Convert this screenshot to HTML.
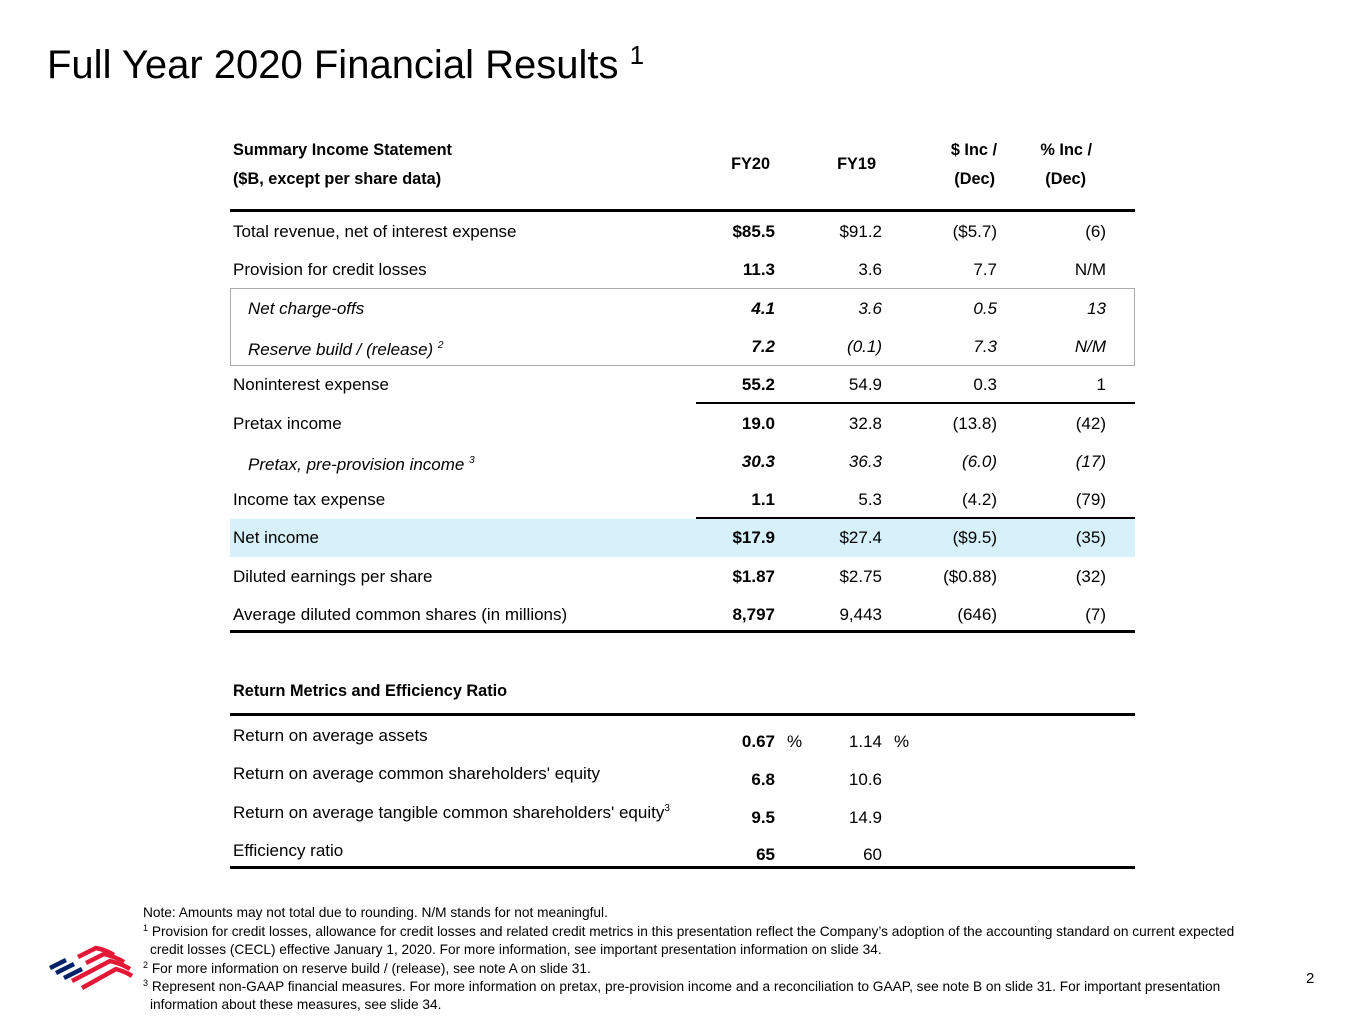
<!DOCTYPE html>
<html><head><meta charset="utf-8"><style>
body{margin:0;width:1365px;height:1024px;background:#fff;position:relative;overflow:hidden;font-family:"Liberation Sans",Arial,sans-serif;color:#000}
.a{position:absolute;white-space:nowrap}
.t{font-size:17px;line-height:20px}
.h{font-size:16.3px}
.r{text-align:right}
.b{font-weight:bold}
.i{font-style:italic}
.ln{position:absolute;background:#000}
.fn{position:absolute;left:143px;font-size:13.7px;white-space:nowrap;line-height:16px}
sup{font-size:10px;position:relative;top:-7px;vertical-align:baseline;line-height:0}
.fn sup{font-size:9px;top:-5px}
</style></head><body>
<div class="a" style="left:47px;top:40px;font-size:40px;line-height:50px">Full Year 2020 Financial Results <sup style="font-size:26px;top:-14px">1</sup></div>

<div class="a t b h" style="left:233px;top:140px">Summary Income Statement</div>
<div class="a t b h" style="left:233px;top:169px">($B, except per share data)</div>
<div class="a t b r h" style="left:700px;width:70px;top:154px">FY20</div>
<div class="a t b r h" style="left:806px;width:70px;top:154px">FY19</div>
<div class="a t b r h" style="left:900px;width:97px;top:140px">$ Inc /</div>
<div class="a t b r h" style="left:900px;width:95px;top:169px">(Dec)</div>
<div class="a t b r h" style="left:1000px;width:92px;top:140px">% Inc /</div>
<div class="a t b r h" style="left:1000px;width:86px;top:169px">(Dec)</div>

<div class="ln" style="left:230px;top:209px;width:905px;height:3px"></div>
<div style="position:absolute;left:230px;top:288px;width:903px;height:76px;border:1px solid #aaa"></div>
<div style="position:absolute;left:230px;top:519px;width:905px;height:38px;background:#d6f1fa"></div>
<div class="ln" style="left:696px;top:402px;width:439px;height:1.5px"></div>
<div class="ln" style="left:696px;top:517px;width:439px;height:1.5px"></div>
<div class="ln" style="left:230px;top:630px;width:905px;height:2.5px"></div>

<div id="rows"></div>
<script>
var rows=[
["Total revenue, net of interest expense","$85.5","$91.2","($5.7)","(6)",""],
["Provision for credit losses","11.3","3.6","7.7","N/M",""],
["Net charge-offs","4.1","3.6","0.5","13","i"],
["Reserve build / (release) <sup>2</sup>","7.2","(0.1)","7.3","N/M","i"],
["Noninterest expense","55.2","54.9","0.3","1",""],
["Pretax income","19.0","32.8","(13.8)","(42)",""],
["Pretax, pre-provision income <sup>3</sup>","30.3","36.3","(6.0)","(17)","i"],
["Income tax expense","1.1","5.3","(4.2)","(79)",""],
["Net income","$17.9","$27.4","($9.5)","(35)",""],
["Diluted earnings per share","$1.87","$2.75","($0.88)","(32)",""],
["Average diluted common shares (in millions)","8,797","9,443","(646)","(7)",""]];
var h="";
rows.forEach(function(r,k){var y=222+k*38.3;var it=r[5]?" i":"";var lx=r[5]?248:233;
var ly=(k==3||k==6)?y+3:y;
h+='<div class="a t'+it+'" style="left:'+lx+'px;top:'+ly+'px">'+r[0]+'</div>';
h+='<div class="a t b r'+it+'" style="left:675px;width:100px;top:'+y+'px">'+r[1]+'</div>';
h+='<div class="a t r'+it+'" style="left:782px;width:100px;top:'+y+'px">'+r[2]+'</div>';
h+='<div class="a t r'+it+'" style="left:897px;width:100px;top:'+y+'px">'+r[3]+'</div>';
h+='<div class="a t r'+it+'" style="left:1006px;width:100px;top:'+y+'px">'+r[4]+'</div>';});
document.getElementById("rows").innerHTML=h;
</script>

<div class="a t b h" style="left:233px;top:681px">Return Metrics and Efficiency Ratio</div>
<div class="ln" style="left:230px;top:713px;width:905px;height:2.5px"></div>
<div class="a t" style="left:233px;top:726px">Return on average assets</div>
<div class="a t" style="left:233px;top:764px">Return on average common shareholders' equity</div>
<div class="a t" style="left:233px;top:803px">Return on average tangible common shareholders' equity<sup>3</sup></div>
<div class="a t" style="left:233px;top:841px">Efficiency ratio</div>
<div class="a t b r" style="left:675px;width:100px;top:732px">0.67</div>
<div class="a t" style="left:787px;top:732px">%</div>
<div class="a t r" style="left:782px;width:100px;top:732px">1.14</div>
<div class="a t" style="left:894px;top:732px">%</div>
<div class="a t b r" style="left:675px;width:100px;top:770px">6.8</div>
<div class="a t r" style="left:782px;width:100px;top:770px">10.6</div>
<div class="a t b r" style="left:675px;width:100px;top:808px">9.5</div>
<div class="a t r" style="left:782px;width:100px;top:808px">14.9</div>
<div class="a t b r" style="left:675px;width:100px;top:845px">65</div>
<div class="a t r" style="left:782px;width:100px;top:845px">60</div>
<div class="ln" style="left:230px;top:866px;width:905px;height:2.5px"></div>

<div class="fn" style="top:905px">Note: Amounts may not total due to rounding. N/M stands for not meaningful.</div>
<div class="fn" style="top:924px"><sup>1</sup> Provision for credit losses, allowance for credit losses and related credit metrics in this presentation reflect the Company’s adoption of the accounting standard on current expected</div>
<div class="fn" style="top:942px;left:150px">credit losses (CECL) effective January 1, 2020. For more information, see important presentation information on slide 34.</div>
<div class="fn" style="top:961px"><sup>2</sup> For more information on reserve build / (release), see note A on slide 31.</div>
<div class="fn" style="top:979px"><sup>3</sup> Represent non-GAAP financial measures. For more information on pretax, pre-provision income and a reconciliation to GAAP, see note B on slide 31. For important presentation</div>
<div class="fn" style="top:997px;left:150px">information about these measures, see slide 34.</div>
<div class="a" style="left:1306px;top:970px;font-size:15px">2</div>

<svg style="position:absolute;left:44px;top:942px" width="92" height="52" viewBox="0 0 92 52">
<g stroke-linecap="butt" fill="none" stroke-width="4.5">
<path d="M6 26 L22 18" stroke="#012169"/>
<path d="M12 31 L30 22" stroke="#012169"/>
<path d="M20 36 L38 27" stroke="#012169"/>
<path d="M34 15 L52 6 Q62 8 70 13" stroke="#e31837"/>
<path d="M42 21 L60 12 Q72 15 80 20" stroke="#e31837"/>
<path d="M28 39 L66 19 Q78 22 86 27" stroke="#e31837"/>
<path d="M38 46 L72 27 Q82 30 88 34" stroke="#e31837"/>
</g></svg>
</body></html>
